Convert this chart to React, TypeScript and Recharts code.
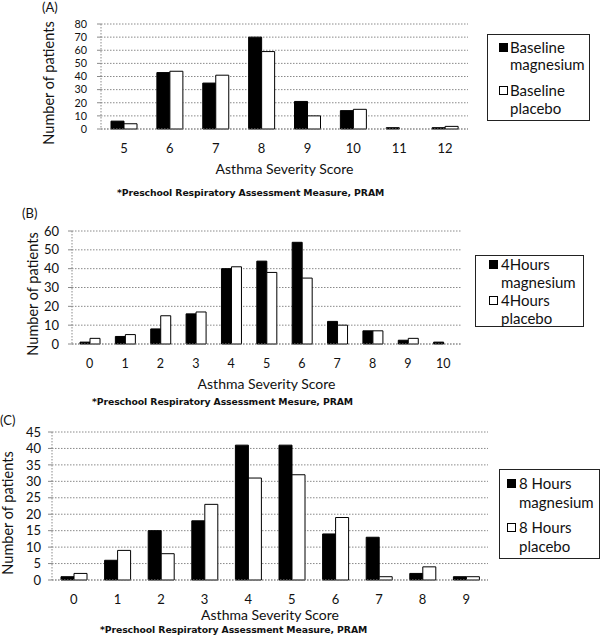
import React from 'react';
import { BarChart, Bar, XAxis, YAxis, CartesianGrid } from 'recharts';

// ---- Panel A data ----
const scoresA = ['5', '6', '7', '8', '9', '10', '11', '12'];
const baselineMagnesium = [6, 43, 35, 70, 21, 14, 1, 1];
const baselinePlacebo = [4, 44, 41, 59, 10, 15, 0, 2];
const yTicksA = [0, 10, 20, 30, 40, 50, 60, 70, 80];
const legendA = [['Baseline', 'magnesium'], ['Baseline', 'placebo']];
const footnoteA = '*Preschool Respiratory Assessment Measure, PRAM';

// ---- Panel B data ----
const scoresB = ['0', '1', '2', '3', '4', '5', '6', '7', '8', '9', '10'];
const hours4Magnesium = [1, 4, 8, 16, 40, 44, 54, 12, 7, 2, 1];
const hours4Placebo = [3, 5, 15, 17, 41, 38, 35, 10, 7, 3, 0];
const yTicksB = [0, 10, 20, 30, 40, 50, 60];
const legendB = [['4Hours', 'magnesium'], ['4Hours', 'placebo']];
const footnoteB = '*Preschool Respiratory Assessment Mesure, PRAM';

// ---- Panel C data ----
const scoresC = ['0', '1', '2', '3', '4', '5', '6', '7', '8', '9'];
const hours8Magnesium = [1, 6, 15, 18, 41, 41, 14, 13, 2, 1];
const hours8Placebo = [2, 9, 8, 23, 31, 32, 19, 1, 4, 1];
const yTicksC = [0, 5, 10, 15, 20, 25, 30, 35, 40, 45];
const legendC = [['8 Hours', 'magnesium'], ['8 Hours', 'placebo']];
const footnoteC = '*Preschool Respiratory Assessment Measure, PRAM';

const xTitle = 'Asthma Severity Score';
const yTitle = 'Number of patients';

const FONT = 'Lato, "Noto Sans", sans-serif';

type Layout = {
  top: number;
  height: number;
  plotLeft: number;
  plotRight: number;
  plotTop: number;
  plotBottom: number;
  xTickCenter: number;
  xTickSize: number;
  yTickSize: number;
  yTickGap: number;
  xTitleY: number;
  yTitleX: number;
  yTitleY: number;
  barFrac: number;
  letter: string;
  letterX: number;
  letterY: number;
  footX: number;
  footY: number;
  legend: { x: number; y: number; w: number; h: number; lines: number[]; markerX: number; textX: number };
};

function buildRows(cats: string[], a: number[], b: number[]) {
  return cats.map((c, i) => ({ score: c, magnesium: a[i], placebo: b[i] }));
}

function Panel({
  layout,
  cats,
  mag,
  plac,
  ticks,
  legend,
  footnote,
}: {
  layout: Layout;
  cats: string[];
  mag: number[];
  plac: number[];
  ticks: number[];
  legend: string[][];
  footnote: string;
}) {
  const L = layout;
  const data = buildRows(cats, mag, plac);
  const yMax = ticks[ticks.length - 1];
  const xAxisHeight = L.height - L.plotBottom;
  const xTickMargin = L.xTickCenter - L.plotBottom - 0.36 * L.xTickSize;
  const band = (L.plotRight - L.plotLeft) / cats.length;
  const barSize = Math.round(band * L.barFrac);
  return (
    <div style={{ position: 'absolute', left: 0, top: L.top, width: 600, height: L.height }}>
      <div
        style={{
          position: 'absolute',
          left: L.letterX,
          top: L.letterY - 8,
          fontFamily: FONT,
          fontSize: 13,
          lineHeight: '16px',
          color: '#111',
        }}
      >
        {L.letter}
      </div>
      <BarChart
        width={600}
        height={L.height}
        data={data}
        margin={{ top: L.plotTop, right: 600 - L.plotRight, bottom: 0, left: 0 }}
        barGap={0}
        style={{ position: 'absolute', left: 0, top: 0 }}
      >
        <CartesianGrid vertical={false} stroke="#8a8a8a" strokeDasharray="1.5 1.5" />
        <XAxis
          dataKey="score"
          height={xAxisHeight}
          axisLine={{ stroke: '#8a8a8a', strokeDasharray: '1.5 1.5' }}
          tickLine={false}
          tickSize={0}
          tickMargin={xTickMargin}
          interval={0}
          tick={{ fill: '#111', fontSize: L.xTickSize, fontFamily: FONT }}
          label={{
            content: () => (
              <text
                x={(L.plotLeft + L.plotRight) / 2}
                y={L.xTitleY}
                textAnchor="middle"
                dominantBaseline="central"
                fontFamily={FONT}
                fontSize={14}
                fill="#111"
              >
                {xTitle}
              </text>
            ),
          }}
        />
        <XAxis
          xAxisId="top"
          dataKey="score"
          orientation="top"
          height={0}
          tick={false}
          tickLine={false}
          axisLine={{ stroke: '#444', strokeWidth: 1.2 }}
        />
        <YAxis
          width={L.plotLeft}
          domain={[0, yMax]}
          ticks={ticks}
          interval={0}
          allowDecimals={false}
          axisLine={{ stroke: '#8a8a8a', strokeDasharray: '1.5 1.5' }}
          tickLine={{ stroke: '#8a8a8a' }}
          tickSize={4}
          tickMargin={L.yTickGap}
          tick={{ fill: '#111', fontSize: L.yTickSize, fontFamily: FONT }}
          label={{
            content: () => (
              <text
                x={L.yTitleX}
                y={L.yTitleY}
                transform={`rotate(-90 ${L.yTitleX} ${L.yTitleY})`}
                textAnchor="middle"
                dominantBaseline="central"
                fontFamily={FONT}
                fontSize={14.5}
                fill="#111"
              >
                {yTitle}
              </text>
            ),
          }}
        />
        <YAxis
          yAxisId="right"
          orientation="right"
          width={0}
          domain={[0, yMax]}
          tick={false}
          tickLine={false}
          axisLine={{ stroke: '#444', strokeWidth: 1.2 }}
        />
        <Bar dataKey="magnesium" barSize={barSize} fill="#000" stroke="#000" strokeWidth={1} isAnimationActive={false} />
        <Bar dataKey="placebo" barSize={barSize} fill="#fff" stroke="#000" strokeWidth={1} isAnimationActive={false} />
      </BarChart>
      <div
        style={{
          position: 'absolute',
          left: L.legend.x,
          top: L.legend.y - L.top,
          width: L.legend.w,
          height: L.legend.h,
          border: '1px solid #222',
          boxSizing: 'border-box',
          background: '#fff',
        }}
      />
      {legend.map((entry, i) => (
        <React.Fragment key={i}>
          <div
            style={{
              position: 'absolute',
              left: L.legend.markerX,
              top: L.legend.lines[i * 2] - L.top - 4,
              width: 9,
              height: 9,
              boxSizing: 'border-box',
              border: '1px solid #000',
              background: i === 0 ? '#000' : '#fff',
            }}
          />
          {entry.map((line, j) => (
            <div
              key={j}
              style={{
                position: 'absolute',
                left: L.legend.textX,
                top: L.legend.lines[i * 2 + j] - L.top - 9,
                fontFamily: FONT,
                fontSize: 15,
                lineHeight: '18px',
                color: '#111',
                whiteSpace: 'nowrap',
              }}
            >
              {line}
            </div>
          ))}
        </React.Fragment>
      ))}
      <div
        style={{
          position: 'absolute',
          left: L.footX,
          top: L.footY - L.top - 6,
          fontFamily: '"DejaVu Sans", sans-serif',
          fontWeight: 'bold',
          fontSize: 9.3,
          lineHeight: '12px',
          color: '#111',
          whiteSpace: 'nowrap',
          letterSpacing: '-0.1px',
        }}
      >
        {footnote}
      </div>
    </div>
  );
}

const layoutA: Layout = {
  top: 0,
  height: 200,
  plotLeft: 101,
  plotRight: 468,
  plotTop: 24,
  plotBottom: 129,
  xTickCenter: 148,
  xTickSize: 13,
  yTickSize: 10.8,
  yTickGap: 10,
  xTitleY: 168,
  yTitleX: 48,
  yTitleY: 83,
  barFrac: 0.285,
  letter: '(A)',
  letterX: 42,
  letterY: 7,
  footX: 117,
  footY: 193,
  legend: { x: 487, y: 34, w: 103, h: 87, lines: [47, 64, 90, 108], markerX: 499, textX: 510 },
};

const layoutB: Layout = {
  top: 200,
  height: 215,
  plotLeft: 72,
  plotRight: 461,
  plotTop: 31,
  plotBottom: 144,
  xTickCenter: 164,
  xTickSize: 12.5,
  yTickSize: 13,
  yTickGap: 9,
  xTitleY: 183,
  yTitleX: 32,
  yTitleY: 94,
  barFrac: 0.28,
  letter: '(B)',
  letterX: 22,
  letterY: 13,
  footX: 92,
  footY: 402,
  legend: { x: 475, y: 255, w: 109, h: 72, lines: [264, 282, 300, 318], markerX: 489, textX: 501 },
};

const layoutC: Layout = {
  top: 415,
  height: 221,
  plotLeft: 52,
  plotRight: 488,
  plotTop: 17,
  plotBottom: 165,
  xTickCenter: 184,
  xTickSize: 13,
  yTickSize: 13,
  yTickGap: 7,
  xTitleY: 199,
  yTitleX: 7,
  yTitleY: 98,
  barFrac: 0.3,
  letter: '(C)',
  letterX: 0,
  letterY: 5,
  footX: 100,
  footY: 630,
  legend: { x: 499, y: 469, w: 101, h: 90, lines: [483, 502, 527, 546], markerX: 507, textX: 519 },
};

export default function App() {
  return (
    <div
      style={{
        position: 'absolute',
        left: 0,
        top: 0,
        width: 600,
        height: 636,
        overflow: 'hidden',
        background: '#fff',
      }}
    >
      <Panel
        layout={layoutA}
        cats={scoresA}
        mag={baselineMagnesium}
        plac={baselinePlacebo}
        ticks={yTicksA}
        legend={legendA}
        footnote={footnoteA}
      />
      <Panel
        layout={layoutB}
        cats={scoresB}
        mag={hours4Magnesium}
        plac={hours4Placebo}
        ticks={yTicksB}
        legend={legendB}
        footnote={footnoteB}
      />
      <Panel
        layout={layoutC}
        cats={scoresC}
        mag={hours8Magnesium}
        plac={hours8Placebo}
        ticks={yTicksC}
        legend={legendC}
        footnote={footnoteC}
      />
    </div>
  );
}
